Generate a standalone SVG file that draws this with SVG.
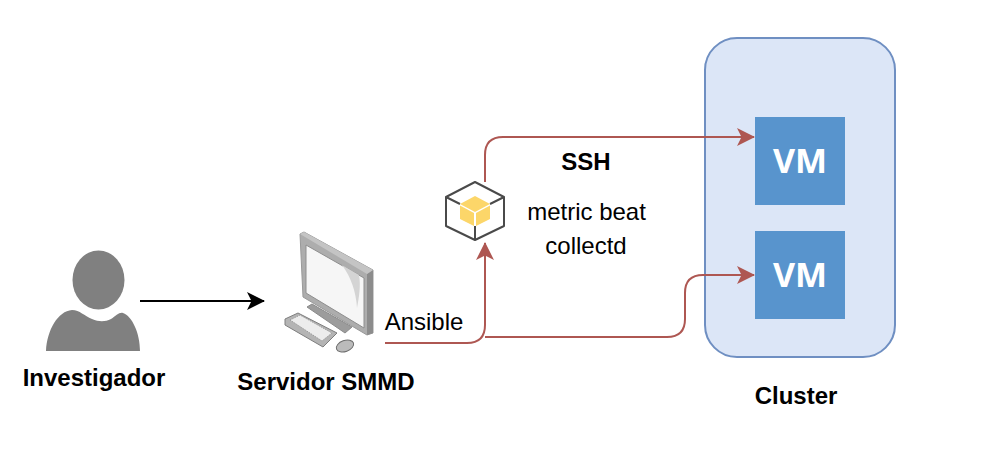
<svg xmlns="http://www.w3.org/2000/svg" width="992" height="460" viewBox="0 0 992 460">
<style>
text{font-family:"Liberation Sans",Arial,sans-serif;fill:#000}
.b{font-weight:bold;font-size:24px;text-anchor:middle}
.r{font-size:24px;text-anchor:middle}
.vm{font-weight:bold;font-size:34px;fill:#fff;text-anchor:middle;font-family:"Open Sans","Liberation Sans",sans-serif}
.c{fill:none;stroke:#ae5752;stroke-width:2}
</style>
<defs>
<marker id="ar" markerUnits="userSpaceOnUse" markerWidth="20" markerHeight="20" refX="17" refY="9" orient="auto"><path d="M0 0L18 9L0 18L4.500 9Z" fill="#ae5752"/></marker>
<marker id="ak" markerUnits="userSpaceOnUse" markerWidth="20" markerHeight="20" refX="17" refY="9" orient="auto"><path d="M0 0L18 9L0 18L4.500 9Z" fill="#000"/></marker>
</defs>
<rect width="992" height="460" fill="#fff"/>
<g id="cluster"><rect x="705" y="38" width="190" height="319" rx="32" fill="#dce6f7" stroke="#6f8fc2" stroke-width="2"/><text class="b" x="796" y="404">Cluster</text></g>
<g id="connectors">
<path d="M140 301H264" fill="none" stroke="#000" stroke-width="2" marker-end="url(#ak)"/>
<path class="c" d="M385 343H467Q485 343 485 325V243" marker-end="url(#ar)"/>
<path class="c" d="M485 182V155Q485 137 503 137H754" marker-end="url(#ar)"/>
<path class="c" d="M485 337H667Q685 337 685 319V293Q685 275 703 275H754" marker-end="url(#ar)"/>
</g>
<g id="investigador">
<ellipse cx="98.500" cy="280" rx="26" ry="29.500" fill="#808080"/>
<path d="M46 351C47 330 58 311 72 310C80 310 84 316 92 319C99 322 105 322 111 319C116 316 119 312 123 313C132 316 140 333 140 351Z" fill="#808080"/>
<text class="b" x="94" y="386">Investigador</text>
</g>
<g id="servidor">
<path d="M307 307L312 304L352 327L345 333Z" fill="#9c9c9c" stroke="#8a8a8a"/>
<path d="M300 234L304 232L373 270V333L367 335L303 297Z" fill="#adadad" stroke="#999"/>
<path d="M367 274L373 270V333L367 335Z" fill="#8c8c8c"/>
<path d="M300 234L304 232L373 270L367 274Z" fill="#c4c4c4"/>
<path d="M306 245L364 278V328L306 293Z" fill="#f6f6f6" stroke="#8e8e8e"/>
<path d="M342 265L359 275C361 285 359 298 357 308C356 292 351 277 342 265Z" fill="#d4d4d4"/>
<path d="M285 319L298 313L337 333L323 347L285 325Z" fill="#b4b4b4" stroke="#7e7e7e"/>
<path d="M290 320L300 315L332 333L322 341Z" fill="#ececec" stroke="#9a9a9a" stroke-dasharray="1.500 1"/>
<ellipse cx="345" cy="346" rx="9" ry="5.500" transform="rotate(-20 345 346)" fill="#bbb" stroke="#6e6e6e"/>
<text class="b" x="326" y="390">Servidor SMMD</text>
</g>
<g id="ansible-label"><text class="r" x="424" y="330">Ansible</text></g>
<g id="package">
<path d="M475 182L504 197V226L475 240L446 226V197Z" fill="#fff" stroke="#4a4a4a" stroke-width="2" stroke-linejoin="round"/>
<path d="M446 197L460 204M504 197L490 204M475 240V226" stroke="#4a4a4a" stroke-width="2" fill="none"/>
<path d="M475 196L490 204L475 212L460 204Z" fill="#fcd669"/>
<path d="M460 205.500L474 213V226L460 219Z" fill="#fcd669"/>
<path d="M476 213L490 205.500V219L476 226Z" fill="#fcd669"/>
</g>
<g id="labels">
<text class="b" x="586" y="170">SSH</text>
<text class="r" x="586.500" y="220">metric beat</text>
<text class="r" x="586" y="254">collectd</text>
</g>
<g id="vm1"><rect x="755" y="117" width="90" height="88" fill="#5894cd"/><text class="vm" x="800" y="173">VM</text></g>
<g id="vm2"><rect x="755" y="231" width="90" height="88" fill="#5894cd"/><text class="vm" x="800" y="287">VM</text></g>
</svg>
